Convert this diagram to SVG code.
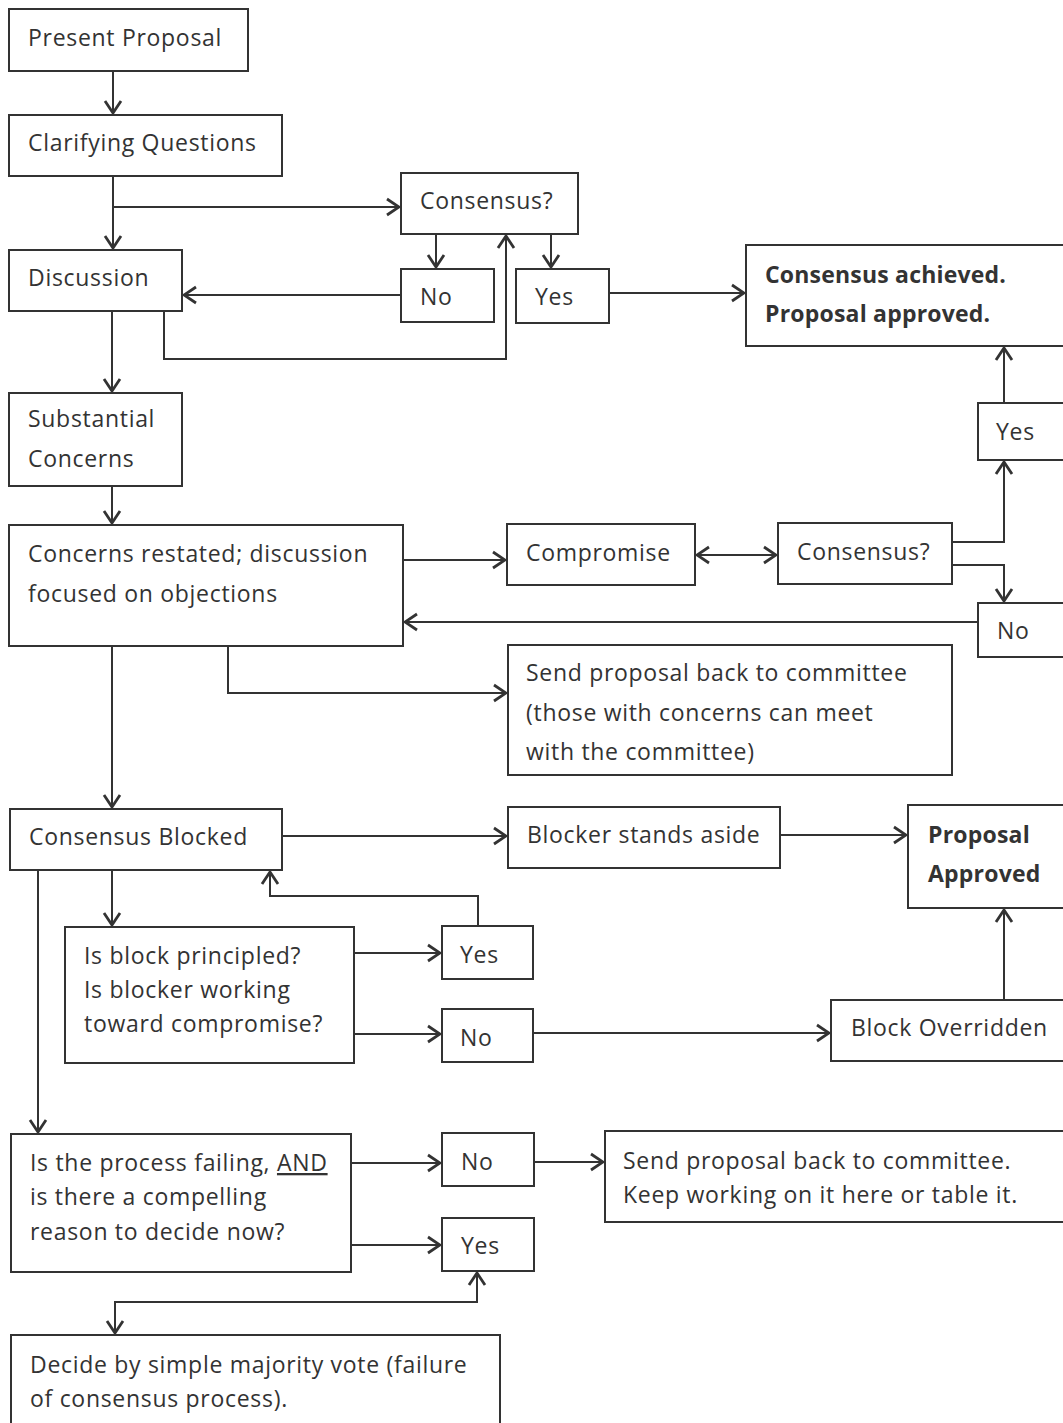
<svg xmlns="http://www.w3.org/2000/svg" width="1063" height="1423" viewBox="0 0 1063 1423">
<defs>
<style>
.box{fill:#fff;stroke:#333;stroke-width:2}
.t{font-family:"Open Sans","Noto Sans",sans-serif;font-size:23px;letter-spacing:0.7px;fill:#333}
.b{font-weight:bold;letter-spacing:0.2px}
.c{fill:none;stroke:#333;stroke-width:2}
</style>
<marker id="a" markerUnits="userSpaceOnUse" markerWidth="16" markerHeight="20" viewBox="0 0 16 20" refX="14" refY="10" orient="auto-start-reverse">
<path d="M2,2 L14,10 L2,18" fill="none" stroke="#333" stroke-width="2.8"/>
</marker>
</defs>
<rect width="1063" height="1423" fill="#fff"/>
<g id="connectors">
<path class="c" marker-end="url(#a)" d="M113,71 V113"/>
<path class="c" marker-end="url(#a)" d="M113,176 V248"/>
<path class="c" marker-end="url(#a)" d="M113,207 H399"/>
<path class="c" marker-end="url(#a)" d="M436,234 V267"/>
<path class="c" marker-end="url(#a)" d="M551,234 V267"/>
<path class="c" marker-end="url(#a)" d="M401,295 H184"/>
<path class="c" marker-end="url(#a)" d="M164,311 V359 H506 V236"/>
<path class="c" marker-end="url(#a)" d="M609,293 H744"/>
<path class="c" marker-end="url(#a)" d="M112,311 V391"/>
<path class="c" marker-end="url(#a)" d="M112,486 V523"/>
<path class="c" marker-end="url(#a)" d="M403,560 H505"/>
<path class="c" marker-start="url(#a)" marker-end="url(#a)" d="M697,555 H776"/>
<path class="c" marker-end="url(#a)" d="M952,542 H1004 V462"/>
<path class="c" marker-end="url(#a)" d="M1004,403 V348"/>
<path class="c" marker-end="url(#a)" d="M952,565 H1004 V601"/>
<path class="c" marker-end="url(#a)" d="M978,622 H405"/>
<path class="c" marker-end="url(#a)" d="M228,646 V693 H506"/>
<path class="c" marker-end="url(#a)" d="M112,646 V807"/>
<path class="c" marker-end="url(#a)" d="M282,836 H506"/>
<path class="c" marker-end="url(#a)" d="M780,835 H906"/>
<path class="c" marker-end="url(#a)" d="M112,870 V925"/>
<path class="c" marker-end="url(#a)" d="M354,953 H440"/>
<path class="c" marker-end="url(#a)" d="M354,1034 H440"/>
<path class="c" marker-end="url(#a)" d="M478,926 V896 H270 V872"/>
<path class="c" marker-end="url(#a)" d="M533,1033 H829"/>
<path class="c" marker-end="url(#a)" d="M1004,1000 V910"/>
<path class="c" marker-end="url(#a)" d="M38,870 V1132"/>
<path class="c" marker-end="url(#a)" d="M351,1163 H440"/>
<path class="c" marker-end="url(#a)" d="M351,1245 H440"/>
<path class="c" marker-end="url(#a)" d="M534,1162 H603"/>
<path class="c" marker-start="url(#a)" marker-end="url(#a)" d="M477,1273 V1302 H115 V1333"/>
</g>
<g id="n1"><rect class="box" x="9" y="9" width="239" height="62"/><text class="t" x="28" y="46">Present Proposal</text></g>
<g id="n2"><rect class="box" x="9" y="115" width="273" height="61"/><text class="t" x="28" y="151">Clarifying Questions</text></g>
<g id="n3"><rect class="box" x="401" y="173" width="177" height="61"/><text class="t" x="420" y="209">Consensus?</text></g>
<g id="n4"><rect class="box" x="9" y="250" width="173" height="61"/><text class="t" x="28" y="286">Discussion</text></g>
<g id="n5"><rect class="box" x="401" y="269" width="93" height="53"/><text class="t" x="420" y="305">No</text></g>
<g id="n6"><rect class="box" x="516" y="269" width="93" height="54"/><text class="t" x="535" y="305">Yes</text></g>
<g id="n7"><rect class="box" x="746" y="245" width="330" height="101"/><text class="t b" x="765" y="283">Consensus achieved.</text><text class="t b" x="765" y="322">Proposal approved.</text></g>
<g id="n8"><rect class="box" x="9" y="393" width="173" height="93"/><text class="t" x="28" y="427">Substantial</text><text class="t" x="28" y="467">Concerns</text></g>
<g id="n9"><rect class="box" x="978" y="403" width="100" height="57"/><text class="t" x="996" y="440">Yes</text></g>
<g id="n10"><rect class="box" x="9" y="525" width="394" height="121"/><text class="t" x="28" y="562">Concerns restated; discussion</text><text class="t" x="28" y="602">focused on objections</text></g>
<g id="n11"><rect class="box" x="507" y="524" width="188" height="61"/><text class="t" x="526" y="561">Compromise</text></g>
<g id="n12"><rect class="box" x="778" y="523" width="174" height="61"/><text class="t" x="797" y="560">Consensus?</text></g>
<g id="n13"><rect class="box" x="978" y="603" width="100" height="54"/><text class="t" x="997" y="639">No</text></g>
<g id="n14"><rect class="box" x="508" y="645" width="444" height="130"/><text class="t" x="526" y="681">Send proposal back to committee</text><text class="t" x="526" y="721">(those with concerns can meet</text><text class="t" x="526" y="760">with the committee)</text></g>
<g id="n15"><rect class="box" x="10" y="809" width="272" height="61"/><text class="t" x="29" y="845">Consensus Blocked</text></g>
<g id="n16"><rect class="box" x="508" y="807" width="272" height="61"/><text class="t" x="527" y="843">Blocker stands aside</text></g>
<g id="n17"><rect class="box" x="908" y="805" width="170" height="103"/><text class="t b" x="928" y="843">Proposal</text><text class="t b" x="928" y="882">Approved</text></g>
<g id="n18"><rect class="box" x="65" y="927" width="289" height="136"/><text class="t" x="84" y="964">Is block principled?</text><text class="t" x="84" y="998">Is blocker working</text><text class="t" x="84" y="1032">toward compromise?</text></g>
<g id="n19"><rect class="box" x="442" y="926" width="91" height="53"/><text class="t" x="460" y="963">Yes</text></g>
<g id="n20"><rect class="box" x="442" y="1009" width="91" height="53"/><text class="t" x="460" y="1046">No</text></g>
<g id="n21"><rect class="box" x="831" y="1000" width="247" height="61"/><text class="t" x="851" y="1036">Block Overridden</text></g>
<g id="n22"><rect class="box" x="11" y="1134" width="340" height="138"/><text class="t" x="30" y="1171">Is the process failing, <tspan text-decoration="underline">AND </tspan></text><text class="t" x="30" y="1205">is there a compelling</text><text class="t" x="30" y="1240">reason to decide now?</text></g>
<g id="n23"><rect class="box" x="442" y="1133" width="92" height="53"/><text class="t" x="461" y="1170">No</text></g>
<g id="n24"><rect class="box" x="605" y="1131" width="473" height="91"/><text class="t" x="623" y="1169">Send proposal back to committee.</text><text class="t" x="623" y="1203">Keep working on it here or table it.</text></g>
<g id="n25"><rect class="box" x="442" y="1218" width="92" height="53"/><text class="t" x="461" y="1254">Yes</text></g>
<g id="n26"><rect class="box" x="11" y="1335" width="489" height="100"/><text class="t" x="30" y="1373">Decide by simple majority vote (failure</text><text class="t" x="30" y="1407">of consensus process).</text></g>
</svg>
